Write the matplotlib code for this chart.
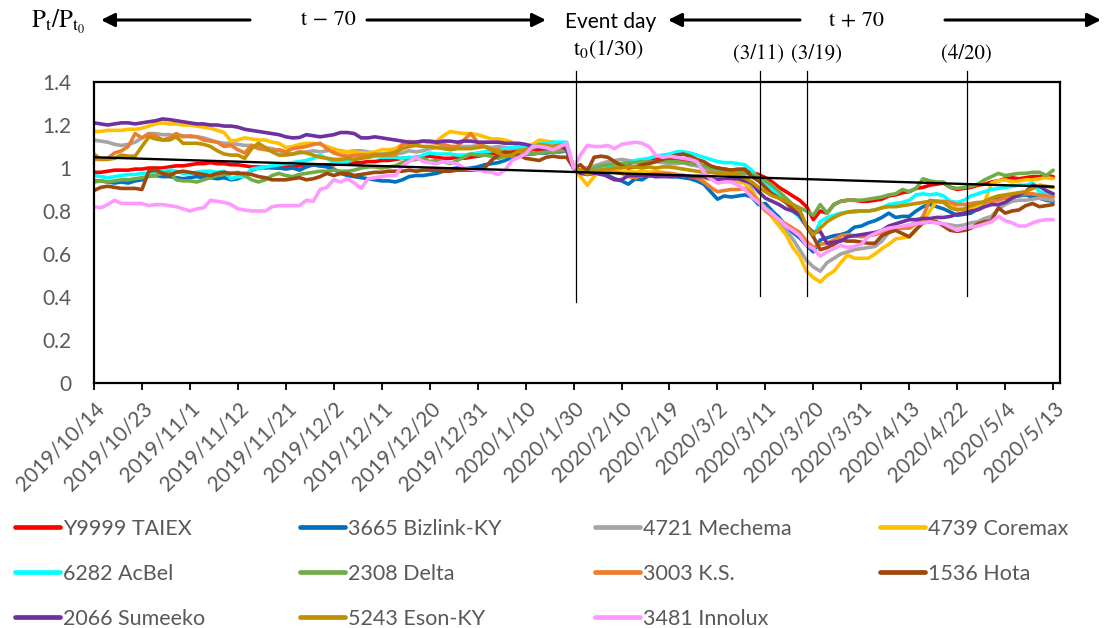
"""
Event study plot

Normalised closing prices (P_t / P_t0) for TAIEX and ten listed stocks,
70 trading days either side of the 2020/1/30 event day, with a reference
trend line and markers for the March and April dates of interest.

Output:
- out.png
"""
import numpy as np
import matplotlib.pyplot as plt

# Tick labels, one every 7 trading days (141 trading days in total)
date_labels = ['2019/10/14', '2019/10/23', '2019/11/1', '2019/11/12', '2019/11/21',
               '2019/12/2', '2019/12/11', '2019/12/20', '2019/12/31', '2020/1/10',
               '2020/1/30', '2020/2/10', '2020/2/19', '2020/3/2', '2020/3/11',
               '2020/3/20', '2020/3/31', '2020/4/13', '2020/4/22', '2020/5/4',
               '2020/5/13']

# P_t / P_t0 per trading day
y9999_taiex = [
    0.98, 0.98, 0.985, 0.99, 0.99, 0.99, 0.995, 0.995, 1.0, 1.0,
    1.0, 1.005, 1.01, 1.01, 1.015, 1.02, 1.02, 1.025, 1.02, 1.02,
    1.015, 1.015, 1.01, 1.005, 1.005, 1.0, 1.005, 1.0, 1.005, 1.005,
    1.01, 1.01, 1.015, 1.01, 1.015, 1.015, 1.02, 1.02, 1.025, 1.025,
    1.03, 1.03, 1.035, 1.035, 1.04, 1.045, 1.045, 1.05, 1.05, 1.055,
    1.05, 1.045, 1.045, 1.05, 1.045, 1.05, 1.055, 1.06, 1.065, 1.07,
    1.07, 1.075, 1.08, 1.08, 1.085, 1.085, 1.09, 1.09, 1.09, 1.095,
    1.0, 0.99, 1.0, 0.995, 1.005, 1.01, 1.015, 1.02, 1.02, 1.03,
    1.035, 1.04, 1.045, 1.04, 1.04, 1.035, 1.035, 1.03, 1.02, 1.01,
    1.005, 1.0, 0.995, 0.99, 0.99, 0.985, 0.98, 0.97, 0.955, 0.935,
    0.91, 0.89, 0.87, 0.85, 0.82, 0.76, 0.80, 0.79, 0.83, 0.845,
    0.85, 0.85, 0.845, 0.845, 0.85, 0.855, 0.87, 0.875, 0.885, 0.89,
    0.905, 0.91, 0.92, 0.925, 0.93, 0.91, 0.9, 0.905, 0.91, 0.92,
    0.925, 0.935, 0.94, 0.95, 0.955, 0.95, 0.955, 0.96, 0.96, 0.965,
    0.96]
bizlink_3665 = [
    0.94, 0.94, 0.935, 0.93, 0.935, 0.93, 0.94, 0.945, 0.965, 0.965,
    0.96, 0.96, 0.955, 0.95, 0.955, 0.96, 0.955, 0.955, 0.95, 0.955,
    0.945, 0.95, 0.965, 0.99, 1.0, 1.005, 1.0, 1.0, 0.995, 1.0,
    0.99, 1.005, 1.015, 1.01, 1.005, 0.995, 0.975, 0.965, 0.96, 0.955,
    0.95, 0.945, 0.94, 0.94, 0.935, 0.945, 0.96, 0.965, 0.965, 0.97,
    0.975, 0.985, 0.995, 1.0, 0.995, 1.0, 1.005, 1.015, 1.02, 1.025,
    1.035, 1.05, 1.06, 1.065, 1.065, 1.07, 1.07, 1.075, 1.075, 1.08,
    1.0, 0.99, 0.985, 0.975, 0.97, 0.965, 0.95, 0.94, 0.925, 0.95,
    0.945, 0.965, 0.96, 0.965, 0.96, 0.96, 0.955, 0.95, 0.94, 0.925,
    0.89, 0.855, 0.87, 0.865, 0.87, 0.875, 0.865, 0.83, 0.835, 0.8,
    0.77, 0.73, 0.7, 0.675, 0.64, 0.61, 0.665, 0.675, 0.685, 0.69,
    0.7, 0.725, 0.73, 0.745, 0.755, 0.77, 0.79, 0.77, 0.775, 0.775,
    0.8, 0.82, 0.83, 0.82, 0.81, 0.795, 0.78, 0.785, 0.79, 0.81,
    0.84, 0.855, 0.865, 0.86, 0.865, 0.87, 0.875, 0.865, 0.86, 0.85,
    0.845]
mechema_4721 = [
    1.13, 1.125, 1.12, 1.11, 1.105, 1.11, 1.12, 1.14, 1.16, 1.16,
    1.155, 1.155, 1.15, 1.15, 1.145, 1.145, 1.14, 1.13, 1.12, 1.115,
    1.115, 1.11, 1.105, 1.105, 1.1, 1.095, 1.09, 1.08, 1.07, 1.065,
    1.07, 1.075, 1.08, 1.075, 1.08, 1.085, 1.08, 1.075, 1.08, 1.08,
    1.075, 1.07, 1.065, 1.07, 1.065, 1.07, 1.08, 1.075, 1.08, 1.09,
    1.095, 1.1, 1.1, 1.095, 1.1, 1.1, 1.105, 1.1, 1.095, 1.1,
    1.095, 1.09, 1.095, 1.1, 1.105, 1.1, 1.105, 1.1, 1.1, 1.09,
    1.0, 0.99, 1.0, 1.01, 1.02, 1.03, 1.035, 1.04, 1.035, 1.03,
    1.03, 1.025, 1.03, 1.025, 1.02, 1.02, 1.025, 1.015, 1.01, 1.0,
    0.99, 0.98, 0.975, 0.97, 0.97, 0.96, 0.9, 0.845, 0.815, 0.79,
    0.75, 0.71, 0.67, 0.62, 0.57, 0.54, 0.52, 0.56, 0.58, 0.6,
    0.61, 0.62, 0.625, 0.63, 0.635, 0.66, 0.7, 0.715, 0.725, 0.735,
    0.745, 0.75, 0.75, 0.745, 0.74, 0.735, 0.73, 0.735, 0.745, 0.75,
    0.765, 0.775, 0.81, 0.83, 0.845, 0.85, 0.85, 0.855, 0.86, 0.855,
    0.85]
coremax_4739 = [
    1.17, 1.17, 1.175, 1.175, 1.175, 1.18, 1.18, 1.185, 1.195, 1.205,
    1.21, 1.205, 1.205, 1.2, 1.2, 1.195, 1.19, 1.185, 1.175, 1.165,
    1.125, 1.13, 1.14, 1.135, 1.13, 1.13, 1.12, 1.115, 1.095, 1.1,
    1.11, 1.115, 1.115, 1.11, 1.1, 1.09, 1.075, 1.075, 1.075, 1.07,
    1.07, 1.075, 1.085, 1.085, 1.09, 1.11, 1.125, 1.12, 1.125, 1.12,
    1.125, 1.15, 1.17, 1.165, 1.16, 1.16, 1.155, 1.145, 1.135, 1.135,
    1.13, 1.12, 1.1, 1.105, 1.11, 1.13, 1.125, 1.12, 1.115, 1.11,
    1.0, 0.96, 0.92, 0.96, 0.99, 0.985, 0.985, 0.98, 0.985, 0.98,
    0.985, 0.98, 0.985, 0.98, 0.975, 0.97, 0.965, 0.96, 0.955, 0.95,
    0.95, 0.945, 0.94, 0.94, 0.935, 0.93, 0.89, 0.85, 0.81, 0.77,
    0.73, 0.69, 0.63, 0.59, 0.52, 0.49, 0.47, 0.5, 0.52, 0.56,
    0.595, 0.58, 0.58, 0.58, 0.6, 0.625, 0.645, 0.67, 0.675, 0.68,
    0.71, 0.75, 0.8, 0.845, 0.84, 0.83, 0.81, 0.805, 0.815, 0.825,
    0.84, 0.93, 0.94, 0.945, 0.935, 0.94, 0.945, 0.945, 0.95, 0.955,
    0.95]
acbel_6282 = [
    0.965, 0.96, 0.955, 0.96, 0.965, 0.97, 0.97, 0.975, 0.975, 0.98,
    0.985, 0.99, 0.985, 0.975, 0.975, 0.98, 0.985, 0.985, 0.98, 0.985,
    0.95, 0.96, 0.96, 0.995, 1.0, 1.005, 1.01, 1.015, 1.02, 1.025,
    1.03, 1.035, 1.045, 1.06, 1.045, 1.025, 1.025, 1.03, 1.04, 1.05,
    1.05, 1.055, 1.05, 1.05, 1.05, 1.045, 1.05, 1.045, 1.06, 1.07,
    1.065, 1.065, 1.065, 1.06, 1.06, 1.065, 1.07, 1.075, 1.08, 1.085,
    1.09, 1.095, 1.1, 1.1, 1.1, 1.11, 1.115, 1.12, 1.12, 1.12,
    1.0, 0.99, 0.98, 0.995, 1.0, 1.01, 1.015, 1.02, 1.025, 1.035,
    1.04, 1.045, 1.055, 1.06, 1.065, 1.075, 1.075, 1.07, 1.06, 1.05,
    1.04, 1.03, 1.025, 1.025, 1.02, 1.015, 0.99, 0.95, 0.93, 0.905,
    0.87, 0.84, 0.8, 0.77, 0.73, 0.68, 0.75, 0.77, 0.78, 0.79,
    0.795, 0.795, 0.8, 0.8, 0.805, 0.815, 0.83, 0.835, 0.84, 0.85,
    0.875, 0.88, 0.875, 0.88, 0.87, 0.845, 0.84, 0.85, 0.87, 0.88,
    0.89, 0.9, 0.905, 0.91, 0.915, 0.92, 0.92, 0.93, 0.89, 0.88,
    0.875]
delta_2308 = [
    0.935, 0.94, 0.935, 0.94, 0.945, 0.945, 0.95, 0.955, 0.96, 0.965,
    0.975, 0.98, 0.945, 0.94, 0.94, 0.935, 0.945, 0.955, 0.965, 0.97,
    0.975, 0.98, 0.965, 0.945, 0.935, 0.945, 0.965, 0.975, 0.965, 0.96,
    0.97, 0.975, 0.98, 0.985, 0.985, 0.99, 0.985, 0.985, 0.99, 1.0,
    1.005, 1.005, 1.0, 1.005, 1.01, 1.025, 1.035, 1.04, 1.045, 1.03,
    1.035, 1.03, 1.02, 1.035, 1.05, 1.065, 1.06, 1.06, 1.055, 1.045,
    1.055, 1.06, 1.065, 1.07, 1.065, 1.07, 1.075, 1.075, 1.08, 1.08,
    1.0, 0.99, 0.975, 1.0, 1.01, 1.015, 1.02, 1.02, 1.025, 1.025,
    1.03, 1.025, 1.03, 1.035, 1.03, 1.03, 1.025, 1.02, 1.015, 1.01,
    1.0, 0.995, 0.99, 0.99, 0.985, 0.975, 0.97, 0.96, 0.94, 0.92,
    0.89, 0.86, 0.83, 0.815, 0.8, 0.78, 0.83, 0.79, 0.83, 0.845,
    0.85, 0.85, 0.85, 0.855, 0.86, 0.865, 0.875, 0.88, 0.9, 0.89,
    0.905, 0.95, 0.94, 0.935, 0.935, 0.91, 0.905, 0.91, 0.915, 0.925,
    0.945, 0.96, 0.975, 0.965, 0.97, 0.975, 0.975, 0.98, 0.98, 0.965,
    0.99]
ks_3003 = [
    1.04, 1.04, 1.045, 1.07, 1.08, 1.1, 1.16, 1.14, 1.16, 1.15,
    1.13, 1.14, 1.16, 1.145, 1.15, 1.145, 1.13, 1.125, 1.12, 1.1,
    1.105, 1.085, 1.07, 1.105, 1.09, 1.085, 1.08, 1.085, 1.075, 1.09,
    1.095, 1.1, 1.11, 1.115, 1.09, 1.07, 1.06, 1.055, 1.06, 1.06,
    1.06, 1.065, 1.06, 1.06, 1.06, 1.11, 1.115, 1.12, 1.125, 1.12,
    1.115, 1.11, 1.1, 1.1, 1.13, 1.16, 1.12, 1.1, 1.085, 1.085,
    1.07, 1.055, 1.07, 1.085, 1.095, 1.1, 1.095, 1.09, 1.09, 1.095,
    1.0, 0.99, 0.975, 0.98, 0.99, 0.985, 0.98, 0.975, 0.96, 0.955,
    0.965, 0.97, 0.975, 0.975, 0.975, 0.97, 0.965, 0.96, 0.955, 0.935,
    0.91, 0.89, 0.895, 0.9, 0.9, 0.905, 0.88, 0.84, 0.8, 0.78,
    0.76, 0.74, 0.72, 0.7, 0.66, 0.63, 0.645, 0.65, 0.665, 0.685,
    0.69, 0.685, 0.68, 0.685, 0.69, 0.7, 0.71, 0.715, 0.72, 0.72,
    0.74, 0.775, 0.85, 0.845, 0.845, 0.84, 0.83, 0.83, 0.835, 0.84,
    0.84, 0.845, 0.85, 0.86, 0.865, 0.875, 0.88, 0.88, 0.875, 0.87,
    0.865]
hota_1536 = [
    0.895, 0.91, 0.915, 0.91, 0.905, 0.905, 0.905, 0.9, 0.985, 0.99,
    0.975, 0.965, 0.98, 0.985, 0.98, 0.975, 0.97, 0.965, 0.975, 0.98,
    0.975, 0.975, 0.975, 0.97, 0.96, 0.955, 0.945, 0.945, 0.945, 0.95,
    0.955, 0.945, 0.95, 0.96, 0.975, 0.965, 0.975, 0.975, 0.965, 0.97,
    0.975, 0.98, 0.98, 0.985, 0.985, 0.985, 0.99, 0.985, 0.99, 0.99,
    0.99, 0.985, 0.985, 0.99, 0.99, 0.99, 0.99, 1.0, 1.035, 1.06,
    1.075, 1.07, 1.06, 1.045, 1.04, 1.035, 1.05, 1.055, 1.05, 1.05,
    1.0, 1.015, 0.985, 1.05, 1.055, 1.05, 1.03, 1.01, 1.0, 1.005,
    1.015, 1.02, 1.03, 1.04, 1.05, 1.06, 1.065, 1.055, 1.04, 1.03,
    1.01, 1.0, 0.995, 0.99, 0.995, 0.995, 0.96, 0.94, 0.91, 0.88,
    0.86, 0.84, 0.81, 0.78, 0.73, 0.68, 0.62, 0.63, 0.645, 0.665,
    0.66, 0.66, 0.655, 0.65, 0.65, 0.685, 0.7, 0.71, 0.695, 0.68,
    0.715, 0.745, 0.75, 0.75, 0.73, 0.71, 0.705, 0.71, 0.72, 0.74,
    0.75, 0.755, 0.815, 0.79, 0.8, 0.805, 0.825, 0.835, 0.82, 0.825,
    0.83]
sumeeko_2066 = [
    1.21, 1.205, 1.2, 1.205, 1.21, 1.21, 1.205, 1.21, 1.215, 1.22,
    1.228, 1.225, 1.22, 1.215, 1.21, 1.205, 1.205, 1.2, 1.2, 1.195,
    1.195, 1.19, 1.18, 1.175, 1.17, 1.165, 1.16, 1.155, 1.145, 1.14,
    1.142, 1.155, 1.15, 1.145, 1.15, 1.155, 1.165, 1.165, 1.16, 1.14,
    1.14, 1.145, 1.14, 1.135, 1.13, 1.125, 1.12, 1.12, 1.125, 1.125,
    1.12, 1.125, 1.125, 1.12, 1.125, 1.125, 1.12, 1.12, 1.12, 1.12,
    1.115, 1.115, 1.115, 1.11, 1.1, 1.095, 1.09, 1.1, 1.105, 1.085,
    1.0, 0.975, 0.97, 0.975, 0.975, 0.96, 0.945, 0.945, 0.965, 0.965,
    0.965, 0.965, 0.96, 0.96, 0.96, 0.96, 0.965, 0.96, 0.96, 0.96,
    0.95, 0.945, 0.945, 0.95, 0.95, 0.94, 0.93, 0.89, 0.86, 0.845,
    0.83, 0.81, 0.8, 0.78, 0.73, 0.7, 0.705, 0.65, 0.655, 0.66,
    0.68, 0.685, 0.69, 0.695, 0.7, 0.71, 0.73, 0.74, 0.75, 0.76,
    0.76, 0.765, 0.765, 0.77, 0.77, 0.775, 0.785, 0.79, 0.8, 0.805,
    0.82, 0.83, 0.83, 0.84, 0.86, 0.875, 0.89, 0.92, 0.915, 0.895,
    0.88]
eson_5243 = [
    1.065, 1.04, 1.04, 1.045, 1.06, 1.055, 1.055, 1.1, 1.145, 1.135,
    1.13, 1.13, 1.145, 1.115, 1.115, 1.115, 1.11, 1.1, 1.08, 1.065,
    1.06, 1.06, 1.045, 1.09, 1.115, 1.095, 1.075, 1.06, 1.06, 1.065,
    1.075, 1.07, 1.06, 1.05, 1.045, 1.04, 1.04, 1.045, 1.04, 1.045,
    1.05, 1.06, 1.06, 1.065, 1.075, 1.09, 1.1, 1.105, 1.1, 1.1,
    1.095, 1.09, 1.085, 1.09, 1.09, 1.09, 1.095, 1.1, 1.085, 1.07,
    1.055, 1.06, 1.08, 1.085, 1.09, 1.11, 1.105, 1.1, 1.105, 1.105,
    1.0, 0.99, 0.97, 0.985, 0.99, 0.995, 1.0, 1.0, 1.005, 1.005,
    1.0, 1.005, 1.0, 1.005, 1.005, 1.0, 0.995, 0.99, 0.985, 0.98,
    0.98, 0.975, 0.975, 0.975, 0.97, 0.955, 0.935, 0.91, 0.89, 0.87,
    0.86, 0.845, 0.83, 0.805, 0.73, 0.69, 0.72, 0.75, 0.77, 0.785,
    0.795, 0.8, 0.8, 0.8, 0.805, 0.815, 0.82, 0.82, 0.825, 0.83,
    0.835, 0.84, 0.845, 0.845, 0.84, 0.815, 0.805, 0.81, 0.825, 0.835,
    0.845, 0.86, 0.87, 0.875, 0.88, 0.885, 0.89, 0.905, 0.92, 0.915,
    0.91]
innolux_3481 = [
    0.82, 0.815, 0.83, 0.85, 0.835, 0.835, 0.835, 0.835, 0.825, 0.83,
    0.83, 0.825, 0.82, 0.81, 0.8, 0.81, 0.815, 0.85, 0.845, 0.84,
    0.83, 0.81, 0.805, 0.8, 0.8, 0.8, 0.82, 0.825, 0.825, 0.825,
    0.825, 0.85, 0.845, 0.9, 0.91, 0.945, 0.935, 0.95, 0.93, 0.905,
    0.95, 0.955, 0.96, 0.965, 0.965, 1.01, 1.03, 1.05, 1.03, 1.025,
    1.02, 1.03, 1.025, 1.02, 1.0, 0.995, 0.99, 0.985, 0.98, 0.97,
    0.99, 1.035, 1.05, 1.065, 1.1, 1.1, 1.095, 1.085, 1.1, 1.115,
    1.0, 1.06, 1.105, 1.1, 1.1, 1.105, 1.09, 1.11, 1.115, 1.12,
    1.115, 1.1, 1.06, 1.05, 1.055, 1.05, 1.045, 1.04, 1.03, 0.98,
    0.95, 0.93, 0.935, 0.935, 0.92, 0.9, 0.865, 0.84, 0.81, 0.785,
    0.76, 0.73, 0.71, 0.685, 0.64, 0.625, 0.59, 0.61, 0.625, 0.64,
    0.63, 0.635, 0.645, 0.68, 0.695, 0.71, 0.72, 0.725, 0.73, 0.735,
    0.74, 0.745, 0.75, 0.745, 0.74, 0.725, 0.71, 0.72, 0.725, 0.73,
    0.74, 0.75, 0.775, 0.755, 0.745, 0.73, 0.73, 0.745, 0.755, 0.76,
    0.76]

series_names = ['Y9999 TAIEX', '3665 Bizlink-KY', '4721 Mechema', '4739 Coremax',
                '6282 AcBel', '2308 Delta', '3003 K.S.', '1536 Hota',
                '2066 Sumeeko', '5243 Eson-KY', '3481 Innolux']
series_values = [y9999_taiex, bizlink_3665, mechema_4721, coremax_4739,
                 acbel_6282, delta_2308, ks_3003, hota_1536,
                 sumeeko_2066, eson_5243, innolux_3481]
series_colors = ['#FF0000', '#0070C0', '#A5A5A5', '#FFC000',
                 '#00FFFF', '#70AD47', '#ED7D31', '#9E480E',
                 '#7030A0', '#BF9000', '#FF99FF']

# Straight reference line from the first to the last trading day
trend_ends = [1.05, 0.913]

# Vertical markers: event day, 3/11, 3/19, 4/20 (position in trading days)
marker_days = [70.3, 97.2, 104.1, 127.4]
marker_bottoms = [0.377, 0.405, 0.405, 0.405]
marker_top = 1.45

W, H = 1112, 628
SANS = 'Lato'
SERIF = 'STIXGeneral'
GREY = '#595959'

plt.rcParams['mathtext.fontset'] = 'stix'


def px(x, y):
    """Pixel position measured from the top left -> figure fraction."""
    return x / W, 1 - y / H


def arrow(fig, head, tail, y):
    """Horizontal arrow in pixel coordinates."""
    fig.add_artist(plt.Annotation(
        '', xy=px(head, y), xytext=px(tail, y),
        xycoords='figure fraction', textcoords='figure fraction',
        arrowprops=dict(arrowstyle='-|>', color='black', lw=2.2,
                        mutation_scale=20, shrinkA=0, shrinkB=0)))


fig = plt.figure(figsize=(W / 100, H / 100), dpi=100)
ax = fig.add_axes([94 / W, 1 - 383 / H, 966 / W, 301 / H])

days = np.arange(len(y9999_taiex))
lines = []
for name, vals, color in zip(series_names, series_values, series_colors):
    ln, = ax.plot(days, vals, color=color, lw=2.6, label=name,
                  solid_joinstyle='round', solid_capstyle='round')
    lines.append(ln)

ax.plot([days[0], days[-1]], trend_ends, color='black', lw=1.7, zorder=5)

for d, yb in zip(marker_days, marker_bottoms):
    ax.plot([d, d], [yb, marker_top], color='black', lw=0.9, clip_on=False,
            zorder=6)

ax.set_xlim(0, 141)
ax.set_ylim(0, 1.4)
ax.set_xticks(np.arange(0, len(days), 7))
ax.set_xticklabels(date_labels, rotation=45, ha='right', va='top',
                   rotation_mode='anchor', family=SANS, fontsize=15, color=GREY)
yt = np.arange(0, 1.41, 0.2)
ax.set_yticks(yt)
ax.set_yticklabels(['0', '0.2', '0.4', '0.6', '0.8', '1', '1.2', '1.4'],
                   family=SANS, fontsize=15, color=GREY)
ax.tick_params(axis='x', direction='out', length=5, width=1.3, color='black', pad=6)
ax.tick_params(axis='y', length=0, pad=16)
for sp in ax.spines.values():
    sp.set_color('black')
    sp.set_linewidth(1.6)

# Header annotations
fig.text(*px(58, 22), r'$\mathrm{P_t/P_{t_0}}$', fontsize=18, ha='center', va='center')
arrow(fig, 101, 250, 20)
fig.text(*px(328, 20), 't \u2212 70', family=SERIF, fontsize=16, ha='center', va='center')
arrow(fig, 546, 367, 20)
fig.text(*px(611, 22), 'Event day', family=SANS, fontsize=15, ha='center', va='center')
arrow(fig, 668, 800, 20)
fig.text(*px(856, 20), 't + 70', family=SERIF, fontsize=16, ha='center', va='center')
arrow(fig, 1101, 945, 20)
fig.text(*px(608, 50), r'$\mathrm{t_0(1/30)}$', fontsize=16, ha='center', va='center')
fig.text(*px(759, 53), '(3/11)', family=SERIF, fontsize=15, ha='center', va='center')
fig.text(*px(816, 53), '(3/19)', family=SERIF, fontsize=15, ha='center', va='center')
fig.text(*px(966, 53), '(4/20)', family=SERIF, fontsize=15, ha='center', va='center')

# Legend laid out as 4 columns, filled row by row
col_x = [15, 300, 595, 880]
for c, x0 in enumerate(col_x):
    idx = list(range(c, len(lines), 4))
    leg = fig.legend([lines[i] for i in idx], [series_names[i] for i in idx],
                     loc='upper left', bbox_to_anchor=px(x0, 519), frameon=False,
                     prop={'family': SANS, 'size': 15.5}, handlelength=2.1,
                     handletextpad=0.15, labelspacing=1.15, borderpad=0,
                     borderaxespad=0)
    for t in leg.get_texts():
        t.set_color(GREY)
    for h in leg.legend_handles:
        h.set_linewidth(3.4)

fig.savefig('out.png', dpi=100)
